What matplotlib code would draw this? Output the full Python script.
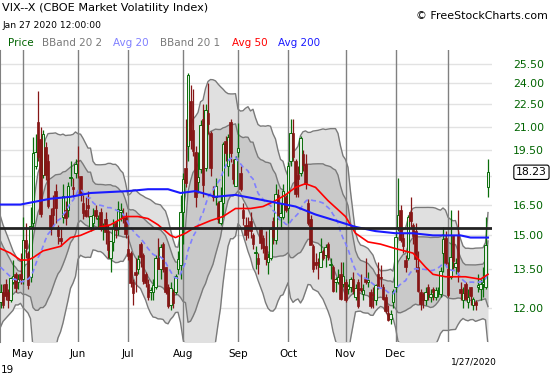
import numpy as np
import pandas as pd
import matplotlib
matplotlib.use("Agg")
import matplotlib.pyplot as plt
from matplotlib.ticker import FixedLocator, NullLocator

# trading calendar (NYSE holidays in the window)
holidays = ["2019-04-19", "2019-05-27", "2019-07-04", "2019-09-02",
            "2019-11-28", "2019-12-25", "2020-01-01", "2020-01-20"]
dates = pd.bdate_range("2019-04-17", "2020-01-27", freq="C", holidays=holidays)

# daily OHLC, Apr 17 2019 .. Jan 27 2020
opens = [
    12.2, 12.6, 12.9, 12.6, 12.3, 13.0, 13.3, 13.0, 13.3,
    13.1, 14.8, 14.2, 13.2, 15.6, 18.6, 21.3, 20.2, 18.1, 19.7, 18.9, 16.0, 16.3, 17.2, 15.4, 14.9, 15.9, 16.2, 16.2, 17.9, 17.4, 18.2,
    18.9, 18.0, 16.6, 16.2, 16.5, 15.4, 15.6, 16.2, 15.8, 16.1, 15.3, 15.8, 15.2, 14.0, 14.7, 15.6, 15.3, 16.1, 16.0, 15.9,
    14.4, 14.2, 13.0, 13.4, 13.5, 14.6, 14.1, 13.3, 12.9, 12.6, 12.6, 12.8, 14.0, 13.5, 14.6, 13.6, 12.8, 12.1, 12.6, 12.6, 13.5, 13.7,
    16.1, 18.5, 19.8, 22.7, 20.8, 19.4, 17.7, 18.4, 21.5, 18.5, 21.9, 20.6, 17.0, 16.9, 16.6, 15.6, 16.6, 20.1, 18.6, 21.3, 18.7, 17.5,
    19.4, 18.2, 16.2, 15.5, 15.5, 15.7, 15.0, 14.2, 14.0, 15.3, 14.9, 14.5, 13.8, 14.0, 15.7, 14.8, 17.0, 15.9, 15.9, 16.9,
    16.3, 18.9, 20.6, 18.9, 18.1, 18.2, 19.3, 18.7, 16.6, 15.8, 14.5, 13.8, 13.8, 13.6, 14.3, 14.1, 14.6, 13.7, 13.6, 13.0, 13.0, 13.3, 12.9,
    13.0, 12.7, 12.8, 13.1, 12.4, 13.0, 12.7, 12.5, 13.1, 13.0, 12.6, 12.5, 12.3, 13.3, 13.2, 12.8, 12.4, 11.8, 11.6, 12.2,
    12.8, 15.4, 16.2, 14.9, 13.9, 14.0, 16.1, 15.5, 15.2, 13.6, 12.6, 12.5, 12.3, 12.8, 12.4, 12.7, 12.4, 12.6, 12.5, 14.2, 14.9,
    13.5, 13.2, 15.0, 13.6, 15.0, 12.7, 12.3, 12.9, 12.2, 12.8, 12.1, 12.2, 12.8, 12.7, 12.9, 12.8, 17.4,
]
highs = [
    12.9, 12.9, 13.1, 12.7, 13.2, 13.9, 13.4, 13.3, 14.2,
    15.9, 15.6, 14.3, 16.4, 20.3, 20.5, 23.4, 21.0, 20.8, 20.0, 19.3, 16.3, 17.0, 17.6, 15.5, 15.4, 17.6, 16.7, 17.7, 18.9, 17.9, 19.0,
    19.8, 18.0, 17.0, 16.9, 17.2, 15.9, 16.3, 16.5, 16.0, 16.3, 15.6, 16.1, 15.5, 14.7, 15.8, 15.7, 16.7, 16.6, 16.3, 16.1,
    15.0, 14.3, 13.1, 14.0, 14.1, 14.7, 14.2, 13.4, 13.1, 12.8, 13.1, 14.1, 14.9, 14.6, 14.7, 13.6, 12.9, 13.0, 12.7, 13.3, 14.3, 17.0,
    18.2, 21.5, 24.8, 23.9, 23.6, 19.8, 19.4, 21.4, 22.5, 22.5, 24.0, 20.7, 17.5, 17.9, 16.7, 17.4, 20.0, 20.4, 20.5, 21.5, 19.0, 19.2,
    21.2, 18.6, 16.6, 15.9, 15.9, 16.1, 15.1, 14.5, 14.2, 15.4, 15.0, 15.2, 14.2, 15.4, 15.9, 17.6, 17.3, 16.6, 17.6, 17.0,
    18.8, 21.5, 21.5, 19.0, 18.6, 20.4, 19.5, 19.3, 16.8, 16.0, 14.6, 14.2, 14.0, 14.9, 14.4, 14.6, 14.7, 14.0, 13.7, 13.2, 13.5, 13.8, 13.8,
    13.1, 12.9, 13.2, 13.4, 12.9, 13.1, 13.3, 12.9, 14.0, 13.4, 12.7, 12.8, 12.9, 13.8, 13.7, 12.9, 12.5, 12.1, 11.9, 12.7,
    15.2, 17.9, 16.5, 15.1, 14.1, 16.0, 16.9, 15.6, 15.6, 14.3, 12.7, 12.6, 12.8, 12.9, 12.7, 12.8, 12.8, 12.8, 13.6, 15.4, 15.2,
    13.8, 16.2, 15.0, 14.0, 16.2, 13.0, 12.8, 13.0, 12.7, 12.8, 12.4, 12.3, 13.3, 13.1, 13.6, 15.9, 19.0,
]
lows = [
    12.0, 12.0, 12.3, 12.0, 12.2, 12.9, 12.6, 12.7, 12.9,
    12.9, 14.0, 12.7, 13.0, 15.3, 18.4, 18.9, 15.9, 17.9, 17.8, 16.3, 15.0, 15.5, 15.6, 14.6, 14.5, 15.6, 15.5, 15.9, 17.5, 16.9, 17.9,
    17.9, 16.7, 15.8, 15.9, 15.9, 15.2, 15.3, 15.8, 15.3, 15.2, 14.8, 14.6, 14.0, 13.4, 14.3, 14.9, 15.0, 15.7, 15.6, 14.9,
    13.9, 12.8, 12.1, 12.6, 13.3, 13.6, 12.9, 12.8, 12.3, 12.3, 12.3, 12.7, 13.5, 13.1, 13.4, 12.5, 12.0, 11.9, 12.0, 12.5, 13.3, 13.1,
    14.6, 17.4, 18.9, 19.6, 19.2, 16.4, 17.1, 18.2, 16.9, 18.3, 20.5, 18.0, 16.7, 16.5, 15.6, 15.5, 15.9, 18.9, 18.0, 18.8, 17.6, 17.5,
    19.1, 17.2, 15.5, 14.8, 14.9, 14.9, 14.4, 13.5, 13.3, 14.4, 14.2, 13.7, 13.3, 13.9, 14.6, 14.6, 15.8, 15.3, 15.8, 16.1,
    15.6, 18.6, 18.9, 16.9, 16.9, 18.0, 18.3, 17.3, 15.5, 14.6, 13.4, 13.5, 13.1, 13.6, 13.9, 13.6, 13.9, 13.1, 12.6, 12.6, 12.9, 12.3, 12.8,
    12.2, 12.5, 12.6, 12.5, 12.3, 12.0, 12.6, 12.3, 12.9, 12.8, 12.0, 12.0, 12.1, 12.7, 12.8, 12.3, 11.8, 11.5, 11.4, 12.0,
    12.6, 15.2, 14.7, 14.2, 13.4, 13.9, 15.4, 14.6, 13.4, 12.6, 11.9, 12.0, 12.1, 12.3, 12.2, 12.3, 12.3, 12.4, 12.4, 13.4, 13.7,
    12.4, 13.1, 13.5, 13.3, 13.0, 12.3, 12.0, 12.3, 12.0, 12.1, 11.9, 11.9, 12.6, 12.3, 12.4, 12.7, 16.9,
]
closes = [
    12.60, 12.09, 12.42, 12.28, 13.14, 13.25, 12.73, 13.11, 13.12,
    14.80, 14.42, 12.87, 15.44, 19.32, 19.40, 19.10, 16.04, 20.55, 18.06, 16.44, 15.29, 15.96, 16.31, 14.95, 14.75, 16.92, 15.85, 17.50, 17.90, 17.30, 18.71,
    18.86, 16.97, 16.09, 15.93, 16.30, 15.94, 15.99, 15.91, 15.82, 15.28, 15.35, 15.15, 14.33, 14.75, 15.40, 15.26, 16.28, 16.21, 15.82, 15.08,
    14.06, 12.93, 12.57, 13.28, 13.96, 14.02, 13.03, 12.93, 12.39, 12.68, 12.86, 13.97, 13.53, 14.45, 13.53, 12.61, 12.07, 12.74, 12.16, 13.24, 13.94, 16.12,
    17.87, 17.61, 24.59, 20.17, 19.49, 16.91, 17.97, 21.09, 17.52, 22.10, 21.18, 18.47, 16.88, 17.50, 15.80, 16.68, 19.87, 19.32, 20.31, 19.35, 17.88, 18.98,
    19.66, 17.33, 15.82, 15.00, 15.27, 15.20, 14.61, 14.22, 13.74, 14.67, 14.44, 13.95, 14.05, 15.32, 14.91, 17.05, 15.96, 16.07, 17.22, 16.24,
    18.56, 20.56, 19.12, 17.04, 17.86, 20.28, 18.64, 17.57, 15.58, 14.57, 13.54, 13.68, 13.79, 14.25, 14.00, 14.46, 14.01, 13.71, 12.65, 13.11, 13.20, 12.33, 13.22,
    12.30, 12.83, 13.10, 12.62, 12.73, 12.07, 12.69, 12.68, 13.00, 13.05, 12.05, 12.46, 12.86, 12.78, 13.13, 12.34, 11.87, 11.54, 11.75, 12.62,
    14.91, 15.96, 14.80, 14.52, 13.62, 15.86, 15.68, 14.99, 13.94, 12.63, 12.14, 12.29, 12.58, 12.50, 12.51, 12.61, 12.67, 12.65, 13.43, 14.82, 13.78,
    12.47, 14.02, 13.85, 13.79, 13.45, 12.54, 12.56, 12.32, 12.39, 12.42, 12.32, 12.10, 12.85, 12.91, 12.98, 14.56, 18.23,
]

# 20-day band state for the first 19 sessions (history before the window)
bb_mid_head = [13.6, 13.5, 13.4, 13.3, 13.2, 13.1, 13.1, 13.0, 13.0, 13.0,
               13.1, 13.1, 13.2, 13.4, 13.7, 14.0, 14.2, 14.5, 14.8]
bb_sd_head = [1.15, 1.0, 0.9, 0.8, 0.7, 0.6, 0.5, 0.45, 0.42, 0.5,
              0.6, 0.65, 0.8, 1.4, 1.8, 2.1, 2.2, 2.5, 2.7]

# moving averages (session index, value)
avg50_idx = [0, 4, 8, 11, 13, 17, 24, 28, 32, 40, 44, 50, 55, 59, 63, 68, 70, 74, 78, 84, 89,
             94, 100, 105, 110, 114, 118, 122, 126, 131, 138, 142, 147, 152, 158, 165, 170, 173,
             178, 186, 192, 195]
avg50_val = [14.4, 14.2, 13.9, 13.9, 14.0, 14.3, 14.5, 14.9, 15.0, 15.4, 15.5, 15.9, 15.9, 15.8,
             15.5, 15.0, 14.9, 15.1, 15.4, 15.7, 15.9, 16.3, 16.3, 16.4, 16.7, 17.0, 17.4, 17.6,
             17.4, 16.7, 15.9, 15.1, 14.7, 14.6, 14.4, 14.2, 13.6, 13.3, 13.2, 13.2, 13.1, 13.3]
avg200_idx = [0, 8, 12, 20, 28, 36, 51, 59, 67, 72, 78, 86, 94, 102, 110, 118, 126, 134, 142,
              150, 158, 165, 173, 184, 188, 195]
avg200_val = [16.5, 16.5, 16.6, 16.8, 16.9, 17.1, 17.2, 17.3, 17.3, 17.1, 17.2, 16.9, 17.0, 16.8,
              16.6, 16.4, 16.0, 15.7, 15.4, 15.2, 15.1, 15.1, 15.0, 15.0, 14.9, 14.9]

line_level = 15.35
price_ticks = [12.0, 13.5, 15.0, 16.5, 19.5, 21.0, 22.5, 24.0, 25.5]
month_names = ["May", "Jun", "Jul", "Aug", "Sep", "Oct", "Nov", "Dec", ""]

GREEN = "#0a6e0a"
RED = "#861616"

o, h, l, c = (np.array(v) for v in (opens, highs, lows, closes))
x = np.arange(len(c))

cs = pd.Series(c)
mid = cs.rolling(20).mean().values
sd = cs.rolling(20).std(ddof=0).values
mid[:19] = bb_mid_head
sd[:19] = bb_sd_head
up2, lo2 = mid + 2 * sd, np.clip(mid - 2 * sd, 1, None)
up1, lo1 = mid + sd, mid - sd

fig = plt.figure(figsize=(5.5, 3.75), dpi=100)
ax = fig.add_axes([0, 33 / 375, 492 / 550, 292 / 375])
ax.set_yscale("log")
ax.set_xlim(-0.2, 196.6)
ax.set_ylim(10.79, 26.6)

# horizontal grid
for v in price_ticks + [18.0]:
    ax.axhline(v, color="#e2e2e2", lw=1, zorder=0)

# bollinger bands
ax.fill_between(x, lo2, up2, color="#e0e0e0", lw=0, zorder=1)
ax.fill_between(x, lo1, up1, color="#c9c9c9", lw=0, zorder=1.1)
for band in (up2, lo2, up1, lo1):
    ax.plot(x, band, color="#7a7a7a", lw=1, zorder=1.2)

# month lines
month_pos = [i for i in range(1, len(dates)) if dates[i].month != dates[i - 1].month]
for p in month_pos:
    ax.axvline(p, color="#808080", lw=1, zorder=1.5)

# candles
is_up = c >= o
body_lo = np.minimum(o, c)
body_h = np.maximum(np.abs(c - o), 0.04)
ax.vlines(x[is_up], l[is_up], h[is_up], color=GREEN, lw=0.9, zorder=3)
ax.vlines(x[~is_up], l[~is_up], h[~is_up], color=RED, lw=0.9, zorder=3)
ax.bar(x[is_up], body_h[is_up], bottom=body_lo[is_up], width=0.85,
       facecolor="#e6efe6", edgecolor=GREEN, lw=0.7, zorder=4)
ax.bar(x[~is_up], body_h[~is_up], bottom=body_lo[~is_up], width=0.85,
       facecolor=RED, edgecolor=RED, lw=0.5, zorder=4)

# averages
ax.plot(x, mid, color="#8080ff", lw=1.2, dashes=(3, 2), zorder=5)
ax.plot(avg50_idx, avg50_val, color="#ff0000", lw=1.2, zorder=5)
ax.plot(avg200_idx, avg200_val, color="#1a1aff", lw=1.5, zorder=5)
ax.axhline(line_level, color="#222222", lw=2, zorder=6)

# axes styling
for s in ("top", "right", "bottom"):
    ax.spines[s].set_visible(False)
ax.spines["left"].set_color("#808080")
ax.yaxis.set_major_locator(FixedLocator(price_ticks))
ax.yaxis.set_minor_locator(NullLocator())
ax.set_yticklabels([f"{v:.2f}" for v in price_ticks])
ax.yaxis.tick_right()
ax.tick_params(axis="y", length=0, pad=15, labelsize=7.8, labelcolor="#006400")
ax.set_xticks([])

ax.text(1.0 + 24 / 492, c[-1], f"{c[-1]:.2f}", transform=ax.get_yaxis_transform(),
        ha="left", va="center", fontsize=7.8, color="black", zorder=10,
        bbox=dict(boxstyle="round,pad=0.2", fc="white", ec="black", lw=0.8))

# x labels
for p, name in zip(month_pos, month_names):
    ax.text(p, -0.04, name, transform=ax.get_xaxis_transform(), ha="center", va="center",
            fontsize=7.5, color="black")
fig.text(1 / 550, 1 - 370 / 375, "19", fontsize=7.5, va="center", ha="left")
fig.text(474 / 550, 1 - 362 / 375, "1/27/2020", fontsize=6.5, va="center", ha="center")

# header
fig.text(2 / 550, 1 - 8 / 375, "VIX--X (CBOE Market Volatility Index)", fontsize=8.1, va="center")
fig.text(2 / 550, 1 - 25 / 375, "Jan 27 2020 12:00:00", fontsize=6.6, va="center")
fig.text(548 / 550, 1 - 16 / 375, "\u00a9 FreeStockCharts.com", fontsize=7.9, va="center", ha="right")
legend = [(8, "Price", "#006400"), (42, "BBand 20 2", "#7a7a7a"), (113, "Avg 20", "#8080ff"),
          (160, "BBand 20 1", "#7a7a7a"), (232, "Avg 50", "#ff0000"), (278, "Avg 200", "#1a1aff")]
for px, txt, col in legend:
    fig.text(px / 550, 1 - 43 / 375, txt, fontsize=7.5, color=col, va="center")

fig.savefig("out.png", dpi=100)
